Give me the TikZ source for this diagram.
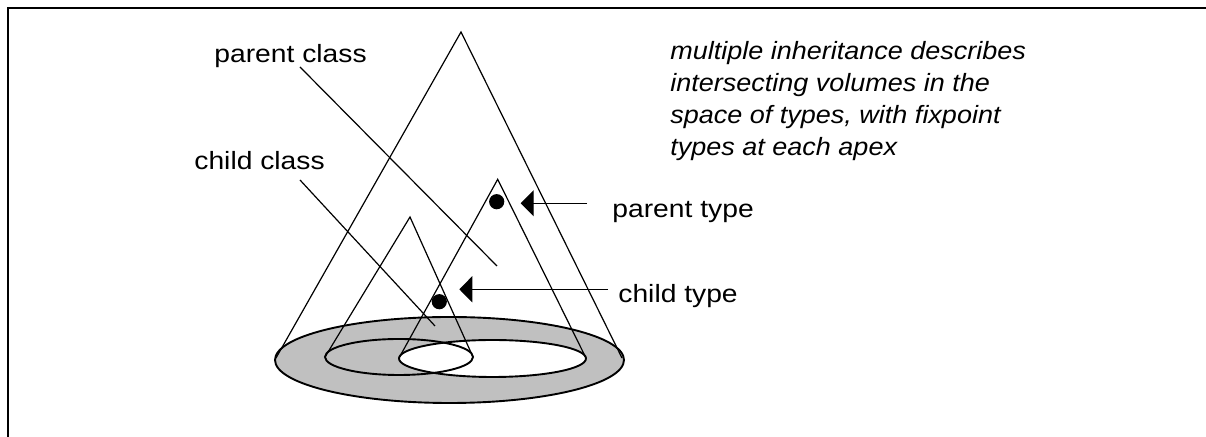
\documentclass[tikz,border=0pt]{standalone}
\usepackage{fontspec}
\setmainfont{Liberation Sans}[FakeStretch=1.13]
\newfontfamily\descfont{Liberation Sans}[FakeStretch=1.08]
\usetikzlibrary{arrows.meta}
\definecolor{halftone}{RGB}{192,192,192}
\begin{document}
\begin{tikzpicture}[x=0.5pt,y=-0.5pt,
  lbl/.style={anchor=base west, inner sep=0pt, font=\fontsize{12.5pt}{15pt}\selectfont},
  desc/.style={anchor=base west, inner sep=0pt, font=\descfont\itshape\fontsize{12.5pt}{15pt}\selectfont},
  conel/.style={line width=0.6pt, line join=miter},
  rim/.style={line width=0.95pt},
  ptr/.style={line width=0.6pt},
  marker/.style={circle, fill=black, inner sep=0pt, minimum size=7.6pt},
  pointer/.style={line width=0.7pt, -{Triangle[length=6.5pt,width=13pt]}},
]
\useasboundingbox (0,0) rectangle (1206,437);
% frame
\draw[line width=0.9pt] (8.3,437) -- (8.3,8.3) -- (1206,8.3);
% bases
\fill[halftone] (449.5,360) ellipse[x radius=174.5, y radius=43];
\fill[white] (492.5,358.5) ellipse[x radius=93.5, y radius=18.5];
\draw[rim] (449.5,360) ellipse[x radius=174.5, y radius=43];
\draw[rim] (399,357) ellipse[x radius=74, y radius=18];
\draw[rim] (492.5,358.5) ellipse[x radius=93.5, y radius=18.5];
% cones
\coordinate (bigApex) at (461,32);
\coordinate (smallApex) at (410,217);
\coordinate (midApex) at (497.7,179.3);
\draw[conel] (276,358) -- (bigApex) -- (622,358);
\draw[conel] (325,357) -- (smallApex) -- (473,357);
\draw[conel] (399,358) -- (midApex) -- (586,358);
% fixpoints
\node[marker] (ptdot) at (496.7,201.7) {};
\node[marker] (ctdot) at (439.3,301.7) {};
% labels
\node[lbl] (pclass) at (214,63) {parent class};
\node[lbl] (cclass) at (194,170) {child class};
\node[lbl] (ptype) at (612,218) {parent type};
\node[lbl] (ctype) at (618,303) {child type};
\node[desc] (desc1) at (670,59.3) {multiple inheritance describes};
\node[desc] (desc2) at (670,91.7) {intersecting volumes in the};
\node[desc] (desc3) at (670,123.3) {space of types, with fixpoint};
\node[desc] (desc4) at (670,156) {types at each apex};
% pointer lines
\coordinate (pclassFrom) at (300,67);
\coordinate (pclassTo) at (497,266);
\coordinate (cclassFrom) at (300,180);
\coordinate (cclassTo) at (435,326);
\draw[ptr] (pclassFrom) -- (pclassTo);
\draw[ptr] (cclassFrom) -- (cclassTo);
% arrows
\coordinate (ptTail) at (587,203.3);
\coordinate (ptTip) at (520.7,203.3);
\coordinate (ctTail) at (608,289.3);
\coordinate (ctTip) at (459.3,289.3);
\draw[pointer] (ptTail) -- (ptTip);
\draw[pointer] (ctTail) -- (ctTip);
\end{tikzpicture}
\end{document}
